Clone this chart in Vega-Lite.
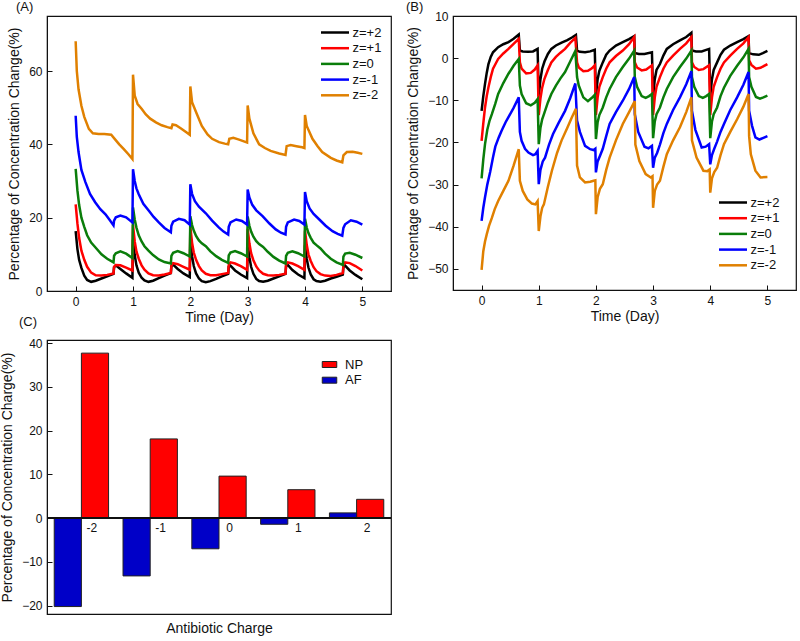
{
"$schema":"https://vega.github.io/schema/vega-lite/v6.json",
"padding":{"left":0,"top":0,"right":0,"bottom":0},
"columns":2,
"bounds":"flush",
"spacing":{"row":49,"column":62},
"resolve":{"scale":{"color":"independent"},"legend":{"color":"independent"}},
"config":{
 "font":"Liberation Sans",
 "view":{"stroke":"#111","strokeWidth":1.2},
 "axis":{"grid":false,"domainColor":"#111","tickColor":"#111","labelColor":"#111","titleColor":"#111","labelFontSize":12,"titleFontSize":14,"titleFontWeight":"normal","labelFont":"Liberation Sans","titleFont":"Liberation Sans","tickSize":-5,"labelPadding":10},
 "legend":{"labelFontSize":13,"labelFont":"Liberation Sans","labelColor":"#111","padding":0,"rowPadding":1.7},
 "title":{"anchor":"start","frame":"group","fontSize":13,"fontWeight":"normal","font":"Liberation Sans","color":"#111"}
},
"datasets":{
"np":[
{"series":"z=+2","t":0,"v":16.3},{"series":"z=+2","t":0.03,"v":11.5},{"series":"z=+2","t":0.06,"v":8.5},{"series":"z=+2","t":0.1,"v":6.3},{"series":"z=+2","t":0.15,"v":4.2},{"series":"z=+2","t":0.2,"v":3.0},{"series":"z=+2","t":0.27,"v":2.5},{"series":"z=+2","t":0.35,"v":2.8},{"series":"z=+2","t":0.45,"v":3.4},{"series":"z=+2","t":0.55,"v":4.0},{"series":"z=+2","t":0.66,"v":4.7},{"series":"z=+2","t":0.67,"v":6.5},{"series":"z=+2","t":0.7,"v":7.0},{"series":"z=+2","t":0.78,"v":6.0},{"series":"z=+2","t":0.88,"v":4.8},{"series":"z=+2","t":0.99,"v":3.6},
{"series":"z=+2","t":1.0,"v":14.0},{"series":"z=+2","t":1.03,"v":9.8},{"series":"z=+2","t":1.06,"v":7.0},{"series":"z=+2","t":1.1,"v":5.0},{"series":"z=+2","t":1.15,"v":3.6},{"series":"z=+2","t":1.2,"v":2.9},{"series":"z=+2","t":1.27,"v":2.5},{"series":"z=+2","t":1.35,"v":2.8},{"series":"z=+2","t":1.45,"v":3.5},{"series":"z=+2","t":1.55,"v":4.2},{"series":"z=+2","t":1.66,"v":4.9},{"series":"z=+2","t":1.67,"v":6.8},{"series":"z=+2","t":1.7,"v":7.2},{"series":"z=+2","t":1.78,"v":6.0},{"series":"z=+2","t":1.88,"v":4.8},{"series":"z=+2","t":1.99,"v":3.8},
{"series":"z=+2","t":2.0,"v":13.5},{"series":"z=+2","t":2.03,"v":9.5},{"series":"z=+2","t":2.06,"v":6.8},{"series":"z=+2","t":2.1,"v":4.8},{"series":"z=+2","t":2.15,"v":3.4},{"series":"z=+2","t":2.2,"v":2.7},{"series":"z=+2","t":2.27,"v":2.4},{"series":"z=+2","t":2.35,"v":2.7},{"series":"z=+2","t":2.45,"v":3.3},{"series":"z=+2","t":2.55,"v":4.0},{"series":"z=+2","t":2.66,"v":4.7},{"series":"z=+2","t":2.67,"v":6.6},{"series":"z=+2","t":2.7,"v":6.9},{"series":"z=+2","t":2.78,"v":5.6},{"series":"z=+2","t":2.88,"v":4.5},{"series":"z=+2","t":2.99,"v":3.5},
{"series":"z=+2","t":3.0,"v":13.0},{"series":"z=+2","t":3.03,"v":9.2},{"series":"z=+2","t":3.06,"v":6.6},{"series":"z=+2","t":3.1,"v":4.7},{"series":"z=+2","t":3.15,"v":3.3},{"series":"z=+2","t":3.2,"v":2.7},{"series":"z=+2","t":3.27,"v":2.5},{"series":"z=+2","t":3.35,"v":2.8},{"series":"z=+2","t":3.45,"v":3.4},{"series":"z=+2","t":3.55,"v":4.0},{"series":"z=+2","t":3.66,"v":4.7},{"series":"z=+2","t":3.67,"v":6.8},{"series":"z=+2","t":3.7,"v":7.1},{"series":"z=+2","t":3.78,"v":5.7},{"series":"z=+2","t":3.88,"v":4.5},{"series":"z=+2","t":3.99,"v":3.5},
{"series":"z=+2","t":4.0,"v":12.5},{"series":"z=+2","t":4.03,"v":8.8},{"series":"z=+2","t":4.06,"v":6.4},{"series":"z=+2","t":4.1,"v":4.5},{"series":"z=+2","t":4.15,"v":3.2},{"series":"z=+2","t":4.2,"v":2.7},{"series":"z=+2","t":4.27,"v":2.5},{"series":"z=+2","t":4.35,"v":2.8},{"series":"z=+2","t":4.45,"v":3.4},{"series":"z=+2","t":4.55,"v":3.9},{"series":"z=+2","t":4.66,"v":4.5},{"series":"z=+2","t":4.67,"v":6.6},{"series":"z=+2","t":4.7,"v":6.9},{"series":"z=+2","t":4.78,"v":5.6},{"series":"z=+2","t":4.88,"v":4.4},{"series":"z=+2","t":5.0,"v":3.2},
{"series":"z=+1","t":0,"v":23.6},{"series":"z=+1","t":0.03,"v":18.5},{"series":"z=+1","t":0.06,"v":14.5},{"series":"z=+1","t":0.1,"v":11.0},{"series":"z=+1","t":0.15,"v":8.5},{"series":"z=+1","t":0.2,"v":6.6},{"series":"z=+1","t":0.27,"v":5.0},{"series":"z=+1","t":0.35,"v":4.3},{"series":"z=+1","t":0.45,"v":4.2},{"series":"z=+1","t":0.55,"v":4.4},{"series":"z=+1","t":0.66,"v":4.8},{"series":"z=+1","t":0.67,"v":6.6},{"series":"z=+1","t":0.7,"v":7.1},{"series":"z=+1","t":0.78,"v":7.0},{"series":"z=+1","t":0.88,"v":6.4},{"series":"z=+1","t":0.99,"v":5.6},
{"series":"z=+1","t":1.0,"v":18.0},{"series":"z=+1","t":1.03,"v":13.5},{"series":"z=+1","t":1.06,"v":10.8},{"series":"z=+1","t":1.1,"v":8.8},{"series":"z=+1","t":1.15,"v":7.0},{"series":"z=+1","t":1.2,"v":5.8},{"series":"z=+1","t":1.27,"v":4.8},{"series":"z=+1","t":1.35,"v":4.3},{"series":"z=+1","t":1.45,"v":4.2},{"series":"z=+1","t":1.55,"v":4.5},{"series":"z=+1","t":1.66,"v":4.9},{"series":"z=+1","t":1.67,"v":7.0},{"series":"z=+1","t":1.7,"v":7.6},{"series":"z=+1","t":1.78,"v":7.3},{"series":"z=+1","t":1.88,"v":6.6},{"series":"z=+1","t":1.99,"v":5.8},
{"series":"z=+1","t":2.0,"v":17.5},{"series":"z=+1","t":2.03,"v":13.2},{"series":"z=+1","t":2.06,"v":10.5},{"series":"z=+1","t":2.1,"v":8.5},{"series":"z=+1","t":2.15,"v":6.8},{"series":"z=+1","t":2.2,"v":5.6},{"series":"z=+1","t":2.27,"v":4.7},{"series":"z=+1","t":2.35,"v":4.3},{"series":"z=+1","t":2.45,"v":4.3},{"series":"z=+1","t":2.55,"v":4.6},{"series":"z=+1","t":2.66,"v":4.9},{"series":"z=+1","t":2.67,"v":7.2},{"series":"z=+1","t":2.7,"v":7.8},{"series":"z=+1","t":2.78,"v":7.5},{"series":"z=+1","t":2.88,"v":6.8},{"series":"z=+1","t":2.99,"v":5.8},
{"series":"z=+1","t":3.0,"v":17.0},{"series":"z=+1","t":3.03,"v":13.0},{"series":"z=+1","t":3.06,"v":10.3},{"series":"z=+1","t":3.1,"v":8.4},{"series":"z=+1","t":3.15,"v":6.7},{"series":"z=+1","t":3.2,"v":5.6},{"series":"z=+1","t":3.27,"v":4.7},{"series":"z=+1","t":3.35,"v":4.3},{"series":"z=+1","t":3.45,"v":4.2},{"series":"z=+1","t":3.55,"v":4.4},{"series":"z=+1","t":3.66,"v":4.7},{"series":"z=+1","t":3.67,"v":7.2},{"series":"z=+1","t":3.7,"v":7.8},{"series":"z=+1","t":3.78,"v":7.5},{"series":"z=+1","t":3.88,"v":6.8},{"series":"z=+1","t":3.99,"v":5.8},
{"series":"z=+1","t":4.0,"v":16.5},{"series":"z=+1","t":4.03,"v":12.6},{"series":"z=+1","t":4.06,"v":10.0},{"series":"z=+1","t":4.1,"v":8.2},{"series":"z=+1","t":4.15,"v":6.5},{"series":"z=+1","t":4.2,"v":5.4},{"series":"z=+1","t":4.27,"v":4.6},{"series":"z=+1","t":4.35,"v":4.2},{"series":"z=+1","t":4.45,"v":4.1},{"series":"z=+1","t":4.55,"v":4.4},{"series":"z=+1","t":4.66,"v":4.9},{"series":"z=+1","t":4.67,"v":7.2},{"series":"z=+1","t":4.7,"v":7.8},{"series":"z=+1","t":4.78,"v":7.6},{"series":"z=+1","t":4.88,"v":6.8},{"series":"z=+1","t":5.0,"v":5.6},
{"series":"z=0","t":0,"v":33.3},{"series":"z=0","t":0.03,"v":27.5},{"series":"z=0","t":0.06,"v":23.5},{"series":"z=0","t":0.1,"v":20.0},{"series":"z=0","t":0.15,"v":17.5},{"series":"z=0","t":0.2,"v":15.2},{"series":"z=0","t":0.27,"v":13.2},{"series":"z=0","t":0.35,"v":11.8},{"series":"z=0","t":0.45,"v":10.0},{"series":"z=0","t":0.55,"v":8.8},{"series":"z=0","t":0.66,"v":7.8},{"series":"z=0","t":0.67,"v":9.6},{"series":"z=0","t":0.7,"v":10.3},{"series":"z=0","t":0.78,"v":10.8},{"series":"z=0","t":0.88,"v":10.2},{"series":"z=0","t":0.99,"v":9.0},
{"series":"z=0","t":1.0,"v":22.8},{"series":"z=0","t":1.03,"v":19.5},{"series":"z=0","t":1.06,"v":17.3},{"series":"z=0","t":1.1,"v":15.2},{"series":"z=0","t":1.15,"v":13.5},{"series":"z=0","t":1.2,"v":12.2},{"series":"z=0","t":1.27,"v":11.0},{"series":"z=0","t":1.35,"v":9.8},{"series":"z=0","t":1.45,"v":8.6},{"series":"z=0","t":1.55,"v":7.9},{"series":"z=0","t":1.66,"v":7.5},{"series":"z=0","t":1.67,"v":9.6},{"series":"z=0","t":1.7,"v":10.4},{"series":"z=0","t":1.78,"v":10.9},{"series":"z=0","t":1.88,"v":10.3},{"series":"z=0","t":1.99,"v":9.4},
{"series":"z=0","t":2.0,"v":20.4},{"series":"z=0","t":2.03,"v":18.0},{"series":"z=0","t":2.06,"v":16.5},{"series":"z=0","t":2.1,"v":15.0},{"series":"z=0","t":2.15,"v":13.8},{"series":"z=0","t":2.2,"v":13.0},{"series":"z=0","t":2.27,"v":12.2},{"series":"z=0","t":2.35,"v":10.8},{"series":"z=0","t":2.45,"v":9.5},{"series":"z=0","t":2.55,"v":8.5},{"series":"z=0","t":2.66,"v":7.7},{"series":"z=0","t":2.67,"v":9.7},{"series":"z=0","t":2.7,"v":10.5},{"series":"z=0","t":2.78,"v":10.9},{"series":"z=0","t":2.88,"v":10.3},{"series":"z=0","t":2.99,"v":9.4},
{"series":"z=0","t":3.0,"v":20.3},{"series":"z=0","t":3.03,"v":17.8},{"series":"z=0","t":3.06,"v":16.2},{"series":"z=0","t":3.1,"v":14.8},{"series":"z=0","t":3.15,"v":13.6},{"series":"z=0","t":3.2,"v":12.8},{"series":"z=0","t":3.27,"v":12.0},{"series":"z=0","t":3.35,"v":10.7},{"series":"z=0","t":3.45,"v":9.3},{"series":"z=0","t":3.55,"v":8.3},{"series":"z=0","t":3.66,"v":7.5},{"series":"z=0","t":3.67,"v":9.6},{"series":"z=0","t":3.7,"v":10.4},{"series":"z=0","t":3.78,"v":10.8},{"series":"z=0","t":3.88,"v":10.3},{"series":"z=0","t":3.99,"v":9.4},
{"series":"z=0","t":4.0,"v":19.7},{"series":"z=0","t":4.03,"v":17.3},{"series":"z=0","t":4.06,"v":15.8},{"series":"z=0","t":4.1,"v":14.5},{"series":"z=0","t":4.15,"v":13.2},{"series":"z=0","t":4.2,"v":12.5},{"series":"z=0","t":4.27,"v":11.6},{"series":"z=0","t":4.35,"v":10.2},{"series":"z=0","t":4.45,"v":8.8},{"series":"z=0","t":4.55,"v":7.8},{"series":"z=0","t":4.66,"v":7.1},{"series":"z=0","t":4.67,"v":9.4},{"series":"z=0","t":4.7,"v":10.2},{"series":"z=0","t":4.78,"v":10.4},{"series":"z=0","t":4.88,"v":9.9},{"series":"z=0","t":5.0,"v":9.0},
{"series":"z=-1","t":0,"v":47.8},{"series":"z=-1","t":0.02,"v":42.0},{"series":"z=-1","t":0.05,"v":37.9},{"series":"z=-1","t":0.1,"v":33.0},{"series":"z=-1","t":0.17,"v":29.7},{"series":"z=-1","t":0.25,"v":26.5},{"series":"z=-1","t":0.34,"v":24.2},{"series":"z=-1","t":0.43,"v":22.3},{"series":"z=-1","t":0.52,"v":20.9},{"series":"z=-1","t":0.6,"v":19.2},{"series":"z=-1","t":0.66,"v":17.9},{"series":"z=-1","t":0.67,"v":19.2},{"series":"z=-1","t":0.7,"v":20.1},{"series":"z=-1","t":0.78,"v":20.6},{"series":"z=-1","t":0.88,"v":20.1},{"series":"z=-1","t":0.99,"v":18.7},
{"series":"z=-1","t":1.0,"v":33.2},{"series":"z=-1","t":1.03,"v":30.0},{"series":"z=-1","t":1.06,"v":28.0},{"series":"z=-1","t":1.1,"v":26.4},{"series":"z=-1","t":1.18,"v":23.8},{"series":"z=-1","t":1.28,"v":21.8},{"series":"z=-1","t":1.36,"v":20.2},{"series":"z=-1","t":1.45,"v":18.7},{"series":"z=-1","t":1.55,"v":17.2},{"series":"z=-1","t":1.66,"v":16.0},{"series":"z=-1","t":1.67,"v":17.8},{"series":"z=-1","t":1.7,"v":18.9},{"series":"z=-1","t":1.8,"v":19.7},{"series":"z=-1","t":1.9,"v":19.3},{"series":"z=-1","t":1.99,"v":18.1},
{"series":"z=-1","t":2.0,"v":29.1},{"series":"z=-1","t":2.03,"v":26.5},{"series":"z=-1","t":2.08,"v":24.5},{"series":"z=-1","t":2.15,"v":23.0},{"series":"z=-1","t":2.27,"v":21.2},{"series":"z=-1","t":2.38,"v":19.2},{"series":"z=-1","t":2.5,"v":17.3},{"series":"z=-1","t":2.58,"v":16.2},{"series":"z=-1","t":2.66,"v":15.4},{"series":"z=-1","t":2.67,"v":17.5},{"series":"z=-1","t":2.7,"v":18.7},{"series":"z=-1","t":2.8,"v":19.5},{"series":"z=-1","t":2.9,"v":19.1},{"series":"z=-1","t":2.99,"v":18.1},
{"series":"z=-1","t":3.0,"v":27.7},{"series":"z=-1","t":3.03,"v":25.5},{"series":"z=-1","t":3.08,"v":23.5},{"series":"z=-1","t":3.15,"v":22.0},{"series":"z=-1","t":3.26,"v":20.4},{"series":"z=-1","t":3.38,"v":18.4},{"series":"z=-1","t":3.49,"v":16.8},{"series":"z=-1","t":3.58,"v":15.9},{"series":"z=-1","t":3.66,"v":15.4},{"series":"z=-1","t":3.67,"v":17.5},{"series":"z=-1","t":3.7,"v":18.7},{"series":"z=-1","t":3.81,"v":19.5},{"series":"z=-1","t":3.9,"v":19.1},{"series":"z=-1","t":3.99,"v":18.1},
{"series":"z=-1","t":4.0,"v":27.0},{"series":"z=-1","t":4.03,"v":24.5},{"series":"z=-1","t":4.08,"v":22.5},{"series":"z=-1","t":4.15,"v":21.0},{"series":"z=-1","t":4.25,"v":19.5},{"series":"z=-1","t":4.36,"v":17.8},{"series":"z=-1","t":4.48,"v":16.3},{"series":"z=-1","t":4.57,"v":15.6},{"series":"z=-1","t":4.65,"v":15.1},{"series":"z=-1","t":4.67,"v":17.2},{"series":"z=-1","t":4.7,"v":18.2},{"series":"z=-1","t":4.8,"v":19.3},{"series":"z=-1","t":4.9,"v":18.9},{"series":"z=-1","t":5.0,"v":18.1},
{"series":"z=-2","t":0,"v":68.1},{"series":"z=-2","t":0.02,"v":60.0},{"series":"z=-2","t":0.05,"v":55.0},{"series":"z=-2","t":0.1,"v":50.5},{"series":"z=-2","t":0.15,"v":47.5},{"series":"z=-2","t":0.23,"v":44.2},{"series":"z=-2","t":0.3,"v":43.0},{"series":"z=-2","t":0.4,"v":42.8},{"series":"z=-2","t":0.5,"v":42.8},{"series":"z=-2","t":0.62,"v":42.6},{"series":"z=-2","t":0.68,"v":41.5},{"series":"z=-2","t":0.76,"v":40.0},{"series":"z=-2","t":0.84,"v":38.7},{"series":"z=-2","t":0.92,"v":37.3},{"series":"z=-2","t":0.99,"v":36.0},
{"series":"z=-2","t":1.0,"v":59.0},{"series":"z=-2","t":1.03,"v":53.3},{"series":"z=-2","t":1.08,"v":51.0},{"series":"z=-2","t":1.15,"v":49.7},{"series":"z=-2","t":1.22,"v":48.2},{"series":"z=-2","t":1.3,"v":47.0},{"series":"z=-2","t":1.4,"v":46.0},{"series":"z=-2","t":1.5,"v":45.2},{"series":"z=-2","t":1.6,"v":44.7},{"series":"z=-2","t":1.67,"v":44.4},{"series":"z=-2","t":1.69,"v":45.4},{"series":"z=-2","t":1.75,"v":45.2},{"series":"z=-2","t":1.85,"v":44.2},{"series":"z=-2","t":1.93,"v":43.3},{"series":"z=-2","t":1.99,"v":42.6},
{"series":"z=-2","t":2.0,"v":55.8},{"series":"z=-2","t":2.03,"v":51.5},{"series":"z=-2","t":2.11,"v":48.4},{"series":"z=-2","t":2.2,"v":45.0},{"series":"z=-2","t":2.3,"v":42.7},{"series":"z=-2","t":2.38,"v":41.5},{"series":"z=-2","t":2.5,"v":40.6},{"series":"z=-2","t":2.6,"v":40.2},{"series":"z=-2","t":2.66,"v":40.0},{"series":"z=-2","t":2.68,"v":41.5},{"series":"z=-2","t":2.75,"v":41.8},{"series":"z=-2","t":2.85,"v":41.3},{"series":"z=-2","t":2.97,"v":40.6},{"series":"z=-2","t":2.99,"v":40.5},
{"series":"z=-2","t":3.0,"v":50.6},{"series":"z=-2","t":3.03,"v":47.0},{"series":"z=-2","t":3.1,"v":43.0},{"series":"z=-2","t":3.2,"v":40.0},{"series":"z=-2","t":3.3,"v":39.0},{"series":"z=-2","t":3.4,"v":38.2},{"series":"z=-2","t":3.55,"v":37.5},{"series":"z=-2","t":3.66,"v":37.1},{"series":"z=-2","t":3.68,"v":39.5},{"series":"z=-2","t":3.75,"v":39.8},{"series":"z=-2","t":3.85,"v":39.5},{"series":"z=-2","t":3.95,"v":39.2},{"series":"z=-2","t":3.99,"v":39.0},
{"series":"z=-2","t":4.0,"v":48.0},{"series":"z=-2","t":4.03,"v":45.0},{"series":"z=-2","t":4.13,"v":41.5},{"series":"z=-2","t":4.22,"v":39.5},{"series":"z=-2","t":4.3,"v":37.9},{"series":"z=-2","t":4.45,"v":36.3},{"series":"z=-2","t":4.55,"v":35.6},{"series":"z=-2","t":4.65,"v":35.1},{"series":"z=-2","t":4.67,"v":37.0},{"series":"z=-2","t":4.73,"v":37.9},{"series":"z=-2","t":4.83,"v":38.0},{"series":"z=-2","t":4.92,"v":37.7},{"series":"z=-2","t":5.0,"v":37.4}
],
"af":[
{"series":"z=+2","t":0,"v":-12.5},{"series":"z=+2","t":0.03,"v":-9.0},{"series":"z=+2","t":0.06,"v":-6.1},{"series":"z=+2","t":0.09,"v":-3.5},{"series":"z=+2","t":0.12,"v":-1.4},{"series":"z=+2","t":0.16,"v":0.3},{"series":"z=+2","t":0.2,"v":1.4},{"series":"z=+2","t":0.29,"v":2.6},{"series":"z=+2","t":0.38,"v":3.3},{"series":"z=+2","t":0.47,"v":3.8},{"series":"z=+2","t":0.56,"v":4.6},{"series":"z=+2","t":0.65,"v":5.6},{"series":"z=+2","t":0.67,"v":1.8},{"series":"z=+2","t":0.72,"v":1.6},{"series":"z=+2","t":0.81,"v":1.5},{"series":"z=+2","t":0.9,"v":1.6},{"series":"z=+2","t":0.98,"v":2.2},
{"series":"z=+2","t":1.0,"v":-9.0},{"series":"z=+2","t":1.03,"v":-5.0},{"series":"z=+2","t":1.06,"v":-2.5},{"series":"z=+2","t":1.1,"v":-0.8},{"series":"z=+2","t":1.16,"v":1.0},{"series":"z=+2","t":1.22,"v":2.2},{"series":"z=+2","t":1.3,"v":3.0},{"series":"z=+2","t":1.4,"v":3.7},{"series":"z=+2","t":1.5,"v":4.3},{"series":"z=+2","t":1.58,"v":4.9},{"series":"z=+2","t":1.65,"v":5.5},{"series":"z=+2","t":1.67,"v":1.8},{"series":"z=+2","t":1.72,"v":1.5},{"series":"z=+2","t":1.81,"v":1.4},{"series":"z=+2","t":1.9,"v":1.6},{"series":"z=+2","t":1.98,"v":2.0},
{"series":"z=+2","t":2.0,"v":-9.0},{"series":"z=+2","t":2.03,"v":-5.0},{"series":"z=+2","t":2.06,"v":-3.0},{"series":"z=+2","t":2.12,"v":-1.0},{"series":"z=+2","t":2.18,"v":0.8},{"series":"z=+2","t":2.24,"v":1.8},{"series":"z=+2","t":2.35,"v":3.0},{"series":"z=+2","t":2.47,"v":3.8},{"series":"z=+2","t":2.58,"v":4.5},{"series":"z=+2","t":2.67,"v":5.2},{"series":"z=+2","t":2.68,"v":1.2},{"series":"z=+2","t":2.75,"v":1.0},{"series":"z=+2","t":2.85,"v":1.0},{"series":"z=+2","t":2.98,"v":1.4},
{"series":"z=+2","t":3.0,"v":-9.0},{"series":"z=+2","t":3.03,"v":-5.0},{"series":"z=+2","t":3.06,"v":-2.8},{"series":"z=+2","t":3.12,"v":-1.4},{"series":"z=+2","t":3.18,"v":0.6},{"series":"z=+2","t":3.24,"v":2.2},{"series":"z=+2","t":3.35,"v":3.3},{"series":"z=+2","t":3.47,"v":4.2},{"series":"z=+2","t":3.58,"v":5.0},{"series":"z=+2","t":3.67,"v":6.0},{"series":"z=+2","t":3.68,"v":1.8},{"series":"z=+2","t":3.75,"v":1.6},{"series":"z=+2","t":3.85,"v":1.6},{"series":"z=+2","t":3.98,"v":2.2},
{"series":"z=+2","t":4.0,"v":-9.0},{"series":"z=+2","t":4.03,"v":-5.0},{"series":"z=+2","t":4.06,"v":-2.8},{"series":"z=+2","t":4.12,"v":-1.0},{"series":"z=+2","t":4.18,"v":0.8},{"series":"z=+2","t":4.24,"v":2.0},{"series":"z=+2","t":4.35,"v":3.0},{"series":"z=+2","t":4.47,"v":3.8},{"series":"z=+2","t":4.58,"v":4.5},{"series":"z=+2","t":4.67,"v":5.2},{"series":"z=+2","t":4.68,"v":1.2},{"series":"z=+2","t":4.75,"v":0.9},{"series":"z=+2","t":4.85,"v":0.8},{"series":"z=+2","t":4.92,"v":1.2},{"series":"z=+2","t":5.0,"v":1.7},
{"series":"z=+1","t":0,"v":-19.6},{"series":"z=+1","t":0.03,"v":-15.5},{"series":"z=+1","t":0.06,"v":-11.7},{"series":"z=+1","t":0.09,"v":-9.0},{"series":"z=+1","t":0.12,"v":-6.9},{"series":"z=+1","t":0.16,"v":-4.5},{"series":"z=+1","t":0.2,"v":-2.5},{"series":"z=+1","t":0.25,"v":-1.2},{"series":"z=+1","t":0.29,"v":-0.2},{"series":"z=+1","t":0.38,"v":1.1},{"series":"z=+1","t":0.47,"v":2.2},{"series":"z=+1","t":0.56,"v":3.4},{"series":"z=+1","t":0.65,"v":4.6},{"series":"z=+1","t":0.67,"v":-1.0},{"series":"z=+1","t":0.7,"v":-2.5},{"series":"z=+1","t":0.78,"v":-3.6},{"series":"z=+1","t":0.86,"v":-3.5},{"series":"z=+1","t":0.93,"v":-2.7},{"series":"z=+1","t":0.98,"v":-1.7},
{"series":"z=+1","t":1.0,"v":-13.5},{"series":"z=+1","t":1.03,"v":-9.5},{"series":"z=+1","t":1.06,"v":-7.0},{"series":"z=+1","t":1.1,"v":-4.9},{"series":"z=+1","t":1.16,"v":-2.8},{"series":"z=+1","t":1.22,"v":-1.0},{"series":"z=+1","t":1.3,"v":0.3},{"series":"z=+1","t":1.38,"v":1.3},{"series":"z=+1","t":1.46,"v":2.2},{"series":"z=+1","t":1.55,"v":3.6},{"series":"z=+1","t":1.64,"v":4.8},{"series":"z=+1","t":1.67,"v":-1.0},{"series":"z=+1","t":1.7,"v":-2.2},{"series":"z=+1","t":1.78,"v":-3.1},{"series":"z=+1","t":1.86,"v":-3.0},{"series":"z=+1","t":1.93,"v":-2.4},{"series":"z=+1","t":1.98,"v":-1.7},
{"series":"z=+1","t":2.0,"v":-13.5},{"series":"z=+1","t":2.03,"v":-9.3},{"series":"z=+1","t":2.06,"v":-6.8},{"series":"z=+1","t":2.12,"v":-4.5},{"series":"z=+1","t":2.18,"v":-2.5},{"series":"z=+1","t":2.24,"v":-1.0},{"series":"z=+1","t":2.35,"v":0.5},{"series":"z=+1","t":2.47,"v":1.8},{"series":"z=+1","t":2.58,"v":3.3},{"series":"z=+1","t":2.67,"v":5.0},{"series":"z=+1","t":2.68,"v":-1.0},{"series":"z=+1","t":2.72,"v":-2.2},{"series":"z=+1","t":2.8,"v":-2.9},{"series":"z=+1","t":2.88,"v":-2.7},{"series":"z=+1","t":2.98,"v":-1.7},
{"series":"z=+1","t":3.0,"v":-13.5},{"series":"z=+1","t":3.03,"v":-9.3},{"series":"z=+1","t":3.06,"v":-6.8},{"series":"z=+1","t":3.12,"v":-4.5},{"series":"z=+1","t":3.18,"v":-2.5},{"series":"z=+1","t":3.24,"v":-1.0},{"series":"z=+1","t":3.35,"v":0.6},{"series":"z=+1","t":3.47,"v":2.2},{"series":"z=+1","t":3.58,"v":3.5},{"series":"z=+1","t":3.67,"v":5.0},{"series":"z=+1","t":3.68,"v":-1.0},{"series":"z=+1","t":3.72,"v":-2.1},{"series":"z=+1","t":3.8,"v":-2.8},{"series":"z=+1","t":3.88,"v":-2.6},{"series":"z=+1","t":3.98,"v":-1.7},
{"series":"z=+1","t":4.0,"v":-13.5},{"series":"z=+1","t":4.03,"v":-9.3},{"series":"z=+1","t":4.06,"v":-6.8},{"series":"z=+1","t":4.12,"v":-4.5},{"series":"z=+1","t":4.18,"v":-2.5},{"series":"z=+1","t":4.24,"v":-1.0},{"series":"z=+1","t":4.35,"v":0.6},{"series":"z=+1","t":4.47,"v":2.2},{"series":"z=+1","t":4.58,"v":3.5},{"series":"z=+1","t":4.67,"v":5.0},{"series":"z=+1","t":4.68,"v":-0.5},{"series":"z=+1","t":4.72,"v":-1.6},{"series":"z=+1","t":4.8,"v":-2.5},{"series":"z=+1","t":4.88,"v":-2.3},{"series":"z=+1","t":5.0,"v":-1.4},
{"series":"z=0","t":0,"v":-28.5},{"series":"z=0","t":0.03,"v":-24.0},{"series":"z=0","t":0.06,"v":-20.4},{"series":"z=0","t":0.1,"v":-17.0},{"series":"z=0","t":0.14,"v":-14.8},{"series":"z=0","t":0.18,"v":-13.3},{"series":"z=0","t":0.24,"v":-10.8},{"series":"z=0","t":0.29,"v":-8.5},{"series":"z=0","t":0.38,"v":-5.9},{"series":"z=0","t":0.47,"v":-3.7},{"series":"z=0","t":0.56,"v":-1.8},{"series":"z=0","t":0.65,"v":-0.2},{"series":"z=0","t":0.67,"v":-6.5},{"series":"z=0","t":0.7,"v":-8.5},{"series":"z=0","t":0.78,"v":-10.7},{"series":"z=0","t":0.86,"v":-11.2},{"series":"z=0","t":0.93,"v":-10.6},{"series":"z=0","t":0.98,"v":-9.7},
{"series":"z=0","t":1.0,"v":-20.4},{"series":"z=0","t":1.03,"v":-16.5},{"series":"z=0","t":1.06,"v":-14.5},{"series":"z=0","t":1.1,"v":-12.9},{"series":"z=0","t":1.16,"v":-10.5},{"series":"z=0","t":1.22,"v":-8.5},{"series":"z=0","t":1.3,"v":-6.5},{"series":"z=0","t":1.38,"v":-4.8},{"series":"z=0","t":1.46,"v":-3.3},{"series":"z=0","t":1.55,"v":-0.8},{"series":"z=0","t":1.64,"v":1.7},{"series":"z=0","t":1.67,"v":-4.5},{"series":"z=0","t":1.7,"v":-6.5},{"series":"z=0","t":1.78,"v":-9.3},{"series":"z=0","t":1.86,"v":-10.2},{"series":"z=0","t":1.93,"v":-9.4},{"series":"z=0","t":1.98,"v":-8.7},
{"series":"z=0","t":2.0,"v":-19.2},{"series":"z=0","t":2.03,"v":-15.2},{"series":"z=0","t":2.06,"v":-13.5},{"series":"z=0","t":2.12,"v":-11.7},{"series":"z=0","t":2.18,"v":-9.3},{"series":"z=0","t":2.24,"v":-7.3},{"series":"z=0","t":2.35,"v":-4.5},{"series":"z=0","t":2.47,"v":-2.1},{"series":"z=0","t":2.58,"v":-0.1},{"series":"z=0","t":2.67,"v":1.8},{"series":"z=0","t":2.68,"v":-4.5},{"series":"z=0","t":2.72,"v":-6.8},{"series":"z=0","t":2.8,"v":-9.0},{"series":"z=0","t":2.87,"v":-9.4},{"series":"z=0","t":2.93,"v":-9.0},{"series":"z=0","t":2.98,"v":-8.5},
{"series":"z=0","t":3.0,"v":-19.0},{"series":"z=0","t":3.03,"v":-15.0},{"series":"z=0","t":3.06,"v":-13.3},{"series":"z=0","t":3.12,"v":-11.7},{"series":"z=0","t":3.18,"v":-9.3},{"series":"z=0","t":3.24,"v":-7.3},{"series":"z=0","t":3.35,"v":-4.5},{"series":"z=0","t":3.47,"v":-2.1},{"series":"z=0","t":3.58,"v":-0.1},{"series":"z=0","t":3.67,"v":1.8},{"series":"z=0","t":3.68,"v":-4.5},{"series":"z=0","t":3.72,"v":-6.8},{"series":"z=0","t":3.8,"v":-9.0},{"series":"z=0","t":3.87,"v":-9.4},{"series":"z=0","t":3.93,"v":-9.0},{"series":"z=0","t":3.98,"v":-8.5},
{"series":"z=0","t":4.0,"v":-19.0},{"series":"z=0","t":4.03,"v":-15.0},{"series":"z=0","t":4.06,"v":-13.3},{"series":"z=0","t":4.12,"v":-11.7},{"series":"z=0","t":4.18,"v":-9.0},{"series":"z=0","t":4.24,"v":-7.0},{"series":"z=0","t":4.35,"v":-4.2},{"series":"z=0","t":4.47,"v":-1.8},{"series":"z=0","t":4.58,"v":0.2},{"series":"z=0","t":4.67,"v":2.2},{"series":"z=0","t":4.68,"v":-4.5},{"series":"z=0","t":4.72,"v":-6.8},{"series":"z=0","t":4.8,"v":-9.2},{"series":"z=0","t":4.87,"v":-9.6},{"series":"z=0","t":4.93,"v":-9.3},{"series":"z=0","t":5.0,"v":-8.9},
{"series":"z=-1","t":0,"v":-38.6},{"series":"z=-1","t":0.03,"v":-35.5},{"series":"z=-1","t":0.06,"v":-33.0},{"series":"z=-1","t":0.1,"v":-30.0},{"series":"z=-1","t":0.15,"v":-27.0},{"series":"z=-1","t":0.2,"v":-23.5},{"series":"z=-1","t":0.24,"v":-21.0},{"series":"z=-1","t":0.3,"v":-18.8},{"series":"z=-1","t":0.35,"v":-17.2},{"series":"z=-1","t":0.42,"v":-15.2},{"series":"z=-1","t":0.47,"v":-14.0},{"series":"z=-1","t":0.56,"v":-11.8},{"series":"z=-1","t":0.65,"v":-9.3},{"series":"z=-1","t":0.67,"v":-17.5},{"series":"z=-1","t":0.7,"v":-19.6},{"series":"z=-1","t":0.76,"v":-21.5},{"series":"z=-1","t":0.82,"v":-22.4},{"series":"z=-1","t":0.9,"v":-23.0},{"series":"z=-1","t":0.94,"v":-22.8},{"series":"z=-1","t":0.98,"v":-22.0},
{"series":"z=-1","t":1.0,"v":-29.9},{"series":"z=-1","t":1.03,"v":-26.5},{"series":"z=-1","t":1.07,"v":-24.5},{"series":"z=-1","t":1.11,"v":-23.6},{"series":"z=-1","t":1.18,"v":-20.5},{"series":"z=-1","t":1.25,"v":-18.0},{"series":"z=-1","t":1.35,"v":-15.3},{"series":"z=-1","t":1.46,"v":-12.5},{"series":"z=-1","t":1.55,"v":-9.5},{"series":"z=-1","t":1.64,"v":-6.0},{"series":"z=-1","t":1.67,"v":-14.8},{"series":"z=-1","t":1.72,"v":-17.5},{"series":"z=-1","t":1.81,"v":-20.8},{"series":"z=-1","t":1.9,"v":-21.6},{"series":"z=-1","t":1.96,"v":-21.8},{"series":"z=-1","t":1.99,"v":-21.5},
{"series":"z=-1","t":2.0,"v":-27.1},{"series":"z=-1","t":2.03,"v":-24.5},{"series":"z=-1","t":2.07,"v":-23.2},{"series":"z=-1","t":2.12,"v":-21.5},{"series":"z=-1","t":2.18,"v":-18.5},{"series":"z=-1","t":2.24,"v":-15.6},{"series":"z=-1","t":2.35,"v":-12.8},{"series":"z=-1","t":2.47,"v":-10.1},{"series":"z=-1","t":2.58,"v":-7.3},{"series":"z=-1","t":2.67,"v":-4.5},{"series":"z=-1","t":2.68,"v":-13.3},{"series":"z=-1","t":2.74,"v":-17.5},{"series":"z=-1","t":2.85,"v":-21.0},{"series":"z=-1","t":2.92,"v":-21.4},{"series":"z=-1","t":2.98,"v":-20.8},
{"series":"z=-1","t":3.0,"v":-26.0},{"series":"z=-1","t":3.03,"v":-23.6},{"series":"z=-1","t":3.07,"v":-22.5},{"series":"z=-1","t":3.12,"v":-20.5},{"series":"z=-1","t":3.18,"v":-17.8},{"series":"z=-1","t":3.24,"v":-15.6},{"series":"z=-1","t":3.35,"v":-12.3},{"series":"z=-1","t":3.47,"v":-9.3},{"series":"z=-1","t":3.58,"v":-6.2},{"series":"z=-1","t":3.67,"v":-3.1},{"series":"z=-1","t":3.68,"v":-12.5},{"series":"z=-1","t":3.74,"v":-17.0},{"series":"z=-1","t":3.85,"v":-21.2},{"series":"z=-1","t":3.92,"v":-21.0},{"series":"z=-1","t":3.98,"v":-20.4},
{"series":"z=-1","t":4.0,"v":-25.2},{"series":"z=-1","t":4.03,"v":-23.0},{"series":"z=-1","t":4.07,"v":-21.5},{"series":"z=-1","t":4.12,"v":-19.8},{"series":"z=-1","t":4.18,"v":-17.5},{"series":"z=-1","t":4.24,"v":-15.6},{"series":"z=-1","t":4.35,"v":-12.3},{"series":"z=-1","t":4.47,"v":-9.3},{"series":"z=-1","t":4.58,"v":-6.3},{"series":"z=-1","t":4.67,"v":-3.3},{"series":"z=-1","t":4.68,"v":-12.5},{"series":"z=-1","t":4.73,"v":-16.0},{"series":"z=-1","t":4.79,"v":-18.8},{"series":"z=-1","t":4.86,"v":-19.3},{"series":"z=-1","t":4.93,"v":-18.9},{"series":"z=-1","t":5.0,"v":-18.5},
{"series":"z=-2","t":0,"v":-50.2},{"series":"z=-2","t":0.03,"v":-45.8},{"series":"z=-2","t":0.06,"v":-43.5},{"series":"z=-2","t":0.09,"v":-41.8},{"series":"z=-2","t":0.13,"v":-39.8},{"series":"z=-2","t":0.18,"v":-37.9},{"series":"z=-2","t":0.23,"v":-35.8},{"series":"z=-2","t":0.29,"v":-33.9},{"series":"z=-2","t":0.38,"v":-31.5},{"series":"z=-2","t":0.47,"v":-29.1},{"series":"z=-2","t":0.56,"v":-25.5},{"series":"z=-2","t":0.65,"v":-21.6},{"series":"z=-2","t":0.67,"v":-29.1},{"series":"z=-2","t":0.72,"v":-31.5},{"series":"z=-2","t":0.8,"v":-33.5},{"series":"z=-2","t":0.88,"v":-34.5},{"series":"z=-2","t":0.94,"v":-34.7},{"series":"z=-2","t":0.98,"v":-33.9},
{"series":"z=-2","t":1.0,"v":-41.0},{"series":"z=-2","t":1.03,"v":-37.5},{"series":"z=-2","t":1.06,"v":-35.5},{"series":"z=-2","t":1.09,"v":-34.7},{"series":"z=-2","t":1.16,"v":-30.5},{"series":"z=-2","t":1.23,"v":-26.7},{"series":"z=-2","t":1.32,"v":-22.5},{"series":"z=-2","t":1.4,"v":-19.5},{"series":"z=-2","t":1.5,"v":-16.5},{"series":"z=-2","t":1.58,"v":-14.0},{"series":"z=-2","t":1.65,"v":-12.0},{"series":"z=-2","t":1.67,"v":-25.5},{"series":"z=-2","t":1.72,"v":-28.3},{"series":"z=-2","t":1.81,"v":-29.5},{"series":"z=-2","t":1.9,"v":-29.3},{"series":"z=-2","t":1.96,"v":-29.1},{"series":"z=-2","t":1.99,"v":-29.0},
{"series":"z=-2","t":2.0,"v":-37.0},{"series":"z=-2","t":2.03,"v":-33.0},{"series":"z=-2","t":2.07,"v":-31.0},{"series":"z=-2","t":2.12,"v":-29.9},{"series":"z=-2","t":2.18,"v":-26.5},{"series":"z=-2","t":2.24,"v":-23.6},{"series":"z=-2","t":2.35,"v":-19.5},{"series":"z=-2","t":2.47,"v":-15.6},{"series":"z=-2","t":2.58,"v":-12.8},{"series":"z=-2","t":2.68,"v":-10.2},{"series":"z=-2","t":2.69,"v":-20.5},{"series":"z=-2","t":2.76,"v":-24.4},{"series":"z=-2","t":2.87,"v":-27.5},{"series":"z=-2","t":2.96,"v":-28.3},{"series":"z=-2","t":2.99,"v":-28.0},
{"series":"z=-2","t":3.0,"v":-35.5},{"series":"z=-2","t":3.03,"v":-31.5},{"series":"z=-2","t":3.07,"v":-30.0},{"series":"z=-2","t":3.12,"v":-29.1},{"series":"z=-2","t":3.18,"v":-25.8},{"series":"z=-2","t":3.24,"v":-22.8},{"series":"z=-2","t":3.35,"v":-19.5},{"series":"z=-2","t":3.47,"v":-16.4},{"series":"z=-2","t":3.58,"v":-12.8},{"series":"z=-2","t":3.67,"v":-9.3},{"series":"z=-2","t":3.68,"v":-19.5},{"series":"z=-2","t":3.76,"v":-23.6},{"series":"z=-2","t":3.88,"v":-26.7},{"series":"z=-2","t":3.95,"v":-26.8},{"series":"z=-2","t":3.99,"v":-26.4},
{"series":"z=-2","t":4.0,"v":-31.9},{"series":"z=-2","t":4.03,"v":-28.5},{"series":"z=-2","t":4.07,"v":-27.0},{"series":"z=-2","t":4.12,"v":-26.0},{"series":"z=-2","t":4.18,"v":-23.0},{"series":"z=-2","t":4.24,"v":-20.4},{"series":"z=-2","t":4.35,"v":-17.5},{"series":"z=-2","t":4.47,"v":-14.5},{"series":"z=-2","t":4.58,"v":-11.5},{"series":"z=-2","t":4.67,"v":-8.5},{"series":"z=-2","t":4.68,"v":-18.5},{"series":"z=-2","t":4.71,"v":-22.8},{"series":"z=-2","t":4.79,"v":-26.7},{"series":"z=-2","t":4.88,"v":-28.3},{"series":"z=-2","t":5.0,"v":-28.2}
],
"bars":[
{"charge":"-2","group":"NP","value":37.7},{"charge":"-2","group":"AF","value":-20.2},
{"charge":"-1","group":"NP","value":18.1},{"charge":"-1","group":"AF","value":-13.2},
{"charge":"0","group":"NP","value":9.6},{"charge":"0","group":"AF","value":-7.0},
{"charge":"1","group":"NP","value":6.5},{"charge":"1","group":"AF","value":-1.4},
{"charge":"2","group":"NP","value":4.3},{"charge":"2","group":"AF","value":1.2}
]
},
"concat":[
{
 "width":344,"height":275,
 "title":{"text":"(A)","dx":-31,"offset":2},
 "layer":[
  {
   "data":{"name":"np"},
   "mark":{"type":"line","strokeWidth":2.5},
   "encoding":{
    "x":{"field":"t","type":"quantitative","scale":{"domain":[-0.5,5.5],"nice":false,"zero":false},
         "axis":{"title":"Time (Day)","values":[0,1,2,3,4,5],"format":"d","titlePadding":3}},
    "y":{"field":"v","type":"quantitative","scale":{"domain":[0,75],"nice":false},
         "axis":{"title":"Percentage of Concentration Change(%)","values":[0,10,20,30,40,50,60,70],"format":"d","titlePadding":7}},
    "color":{"field":"series","type":"nominal","scale":{"domain":["z=+2","z=+1","z=0","z=-1","z=-2"],"range":["#000000","#ff0000","#0a7d0a","#0000ff","#e08000"]},
         "legend":{"title":null,"orient":"none","legendX":274,"legendY":10,"symbolType":"M-2.8,0H2.8","symbolSize":100,"symbolStrokeWidth":2.5,"symbolOffset":7.5,"labelOffset":11}}
   }
  },
  {
   "mark":{"type":"text","fontSize":13,"font":"Liberation Sans","color":"#111"},
   "encoding":{"x":{"datum":2.27},"y":{"datum":68.4},"text":{"value":"NP"}}
  }
 ]
},
{
 "width":343,"height":274,
 "title":{"text":"(B)","dx":-47,"offset":-4},
 "layer":[
  {
   "mark":{"type":"rule","color":"#444","strokeWidth":1},
   "encoding":{"x":{"datum":-0.5},"x2":{"datum":5.25},"y":{"datum":0}}
  },
  {
   "data":{"name":"af"},
   "mark":{"type":"line","strokeWidth":2.5},
   "encoding":{
    "x":{"field":"t","type":"quantitative","scale":{"domain":[-0.5,5.5],"nice":false,"zero":false},
         "axis":{"title":"Time (Day)","values":[0,1,2,3,4,5],"format":"d","titlePadding":3}},
    "y":{"field":"v","type":"quantitative","scale":{"domain":[-55,10],"nice":false,"zero":false},
         "axis":{"title":"Percentage of Concentration Change(%)","values":[-50,-40,-30,-20,-10,0,10],"format":"d","titlePadding":7}},
    "color":{"field":"series","type":"nominal","scale":{"domain":["z=+2","z=+1","z=0","z=-1","z=-2"],"range":["#000000","#ff0000","#0a7d0a","#0000ff","#e08000"]},
         "legend":{"title":null,"orient":"none","legendX":266,"legendY":180,"symbolType":"M-2.8,0H2.8","symbolSize":100,"symbolStrokeWidth":2.5,"symbolOffset":7.5,"labelOffset":11}}
   }
  },
  {
   "mark":{"type":"text","fontSize":13,"font":"Liberation Sans","color":"#111"},
   "encoding":{"x":{"datum":2.16},"y":{"datum":-47.9},"text":{"value":"AF"}}
  }
 ]
},
{
 "width":344,"height":274,
 "title":{"text":"(C)","dx":-28,"offset":8},
 "data":{"name":"bars"},
 "layer":[
  {
   "mark":{"type":"bar","stroke":"#222","strokeWidth":1},
   "encoding":{
    "x":{"field":"charge","type":"nominal","sort":["-2","-1","0","1","2"],"scale":{"paddingInner":0.21,"paddingOuter":0.105},
         "axis":{"title":"Antibiotic Charge","labels":false,"ticks":false,"domain":false,"titlePadding":7}},
    "xOffset":{"field":"group","type":"nominal","scale":{"domain":["AF","NP"],"paddingInner":0,"paddingOuter":0}},
    "y":{"field":"value","type":"quantitative","scale":{"domain":[-21.9,40.7],"nice":false,"zero":false},
         "axis":{"title":"Percentage of Concentration Charge(%)","values":[-20,-10,0,10,20,30,40],"format":"d","titlePadding":7}},
    "color":{"field":"group","type":"nominal","scale":{"domain":["NP","AF"],"range":["#ff0000","#0000c8"]},
         "legend":{"title":null,"orient":"none","legendX":268,"legendY":18,"symbolType":"M-1.45,-0.6H1.45V0.6H-1.45Z","symbolSize":100,"symbolStrokeColor":"#222","symbolStrokeWidth":1,"symbolOffset":8,"labelOffset":9}}
   }
  },
  {
   "mark":{"type":"rule","color":"#111","strokeWidth":1.2},
   "encoding":{"y":{"datum":0}}
  },
  {
   "transform":[{"filter":"datum.group === 'NP'"}],
   "mark":{"type":"text","fontSize":12,"font":"Liberation Sans","color":"#111","dx":10.5,"dy":10},
   "encoding":{"x":{"field":"charge","type":"nominal","sort":["-2","-1","0","1","2"]},"y":{"datum":0},"text":{"field":"charge"}}
  }
 ]
}
]
}
